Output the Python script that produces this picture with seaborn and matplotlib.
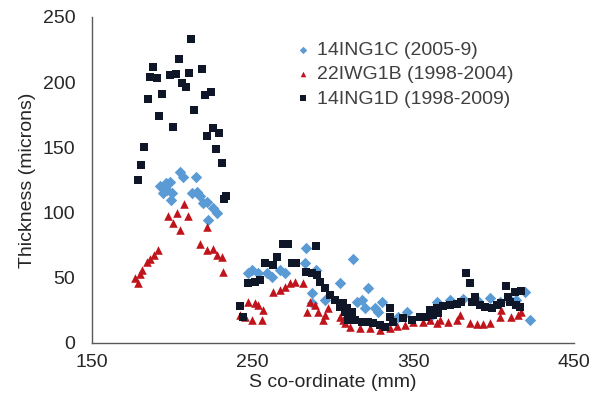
import matplotlib
matplotlib.use("Agg")
import matplotlib.pyplot as plt
import pandas as pd
import seaborn as sns

# 14ING1C (2005-9)
c_x = [204.8, 206.8, 214.7, 192.3, 195.9, 198.5, 196.5, 199.6, 194.4, 199.0, 212.0, 215.2, 217.2, 219.3, 221.7, 225.5, 227.6, 222.4,
       247.3, 249.4, 253.5, 258.7, 261.8, 267.0, 270.1, 283.5, 282.5, 289.7, 304.2, 287.2, 286.7, 295.0,
       312.6, 321.9, 317.8, 314.7, 330.3, 319.9, 326.1, 328.2, 345.8, 340.6,
       419.4, 422.5, 364.5, 372.8, 381.1, 389.4, 397.7, 403.9, 410.1, 414.2, 360.3]
c_y = [131.0, 127.5, 127.0, 120.0, 122.5, 123.7, 117.3, 114.8, 114.8, 109.7, 114.8, 116.0, 112.3, 107.1, 108.4, 103.3, 99.5, 94.3,
       53.5, 56.0, 53.5, 53.5, 50.8, 56.0, 53.5, 72.6, 61.1, 56.0, 45.8, 30.4, 38.0, 33.0,
       64.4, 41.9, 33.0, 31.7, 31.7, 26.6, 26.6, 24.0, 24.0, 20.2,
       39.3, 17.6, 31.7, 33.0, 33.5, 33.0, 34.3, 31.7, 33.0, 33.0, 20.2]

# 22IWG1B (1998-2004)
b_x = [207.2, 202.7, 197.5, 209.9, 200.2, 204.8, 221.7, 217.2, 221.4, 225.5, 228.0, 230.7, 231.7, 191.3, 188.8, 186.1, 184.0, 181.3, 179.9, 176.8, 178.4,
       247.3, 251.4, 253.5, 242.1, 245.2, 256.6, 249.4, 255.6, 262.8, 267.0, 270.1, 273.2, 276.3, 281.5, 285.7, 288.8, 283.6, 290.8, 295.0, 297.0, 293.9, 304.3, 307.4,
       306.4, 310.5, 316.8, 323.0, 329.2, 335.4, 339.6, 356.2, 360.3, 364.5,
       366.6, 371.7, 376.9, 379.0, 385.2, 389.4, 393.5, 397.7, 403.9, 404.9, 411.1, 415.3, 417.3,
       345.0, 350.0]
b_y = [106.6, 99.5, 97.6, 97.6, 91.8, 86.7, 89.2, 75.7, 71.3, 71.9, 67.5, 66.2, 54.7, 71.3, 67.5, 64.2, 62.3, 56.0, 52.7, 49.6, 45.8,
       31.7, 30.4, 29.1, 21.5, 20.2, 25.3, 17.6, 17.6, 39.3, 40.6, 43.2, 45.8, 47.0, 45.8, 31.7, 29.1, 24.0, 24.0, 21.5, 26.6, 17.6, 20.2, 15.1,
       17.6, 12.5, 11.3, 11.3, 10.0, 11.3, 13.0, 16.3, 17.6, 15.1,
       17.6, 16.3, 17.6, 21.5, 15.1, 14.6, 14.6, 15.1, 20.2, 25.3, 20.2, 21.5, 24.0,
       14.0, 16.0]

# 14ING1D (1998-2009)
d_x = [211.6, 204.3, 188.1, 186.1, 190.2, 198.5, 202.3, 210.2, 218.4, 206.2, 208.3, 184.7, 193.8, 220.3, 224.0, 213.7, 191.7, 200.6, 225.5, 221.7,
       229.0, 182.2, 227.2, 180.7, 230.7, 178.8, 233.4, 232.1,
       242.1, 244.2, 247.3, 251.4, 254.5, 257.7, 262.8, 264.9, 268.6, 272.2, 274.2, 277.3, 289.3, 283.2, 286.7, 289.8, 291.9, 295.0, 298.1, 301.2,
       304.3, 307.4, 309.5,
       306.4, 308.5, 311.6, 313.7, 317.8, 322.0, 325.1, 329.2, 332.3, 335.4, 335.4, 337.5, 343.7, 348.9, 354.1, 358.2, 362.4, 365.5,
       382.7, 385.2, 408.0, 413.2, 417.3, 388.3, 360.3, 364.5, 368.6, 372.8, 376.9, 380.0, 386.3, 391.4, 394.6, 398.7, 401.8, 404.9, 410.1, 414.2,
       416.3, 409.0]
d_y = [233.0, 217.8, 211.9, 204.2, 203.5, 205.5, 206.3, 206.8, 210.1, 199.6, 196.6, 187.1, 191.0, 190.4, 192.5, 178.9, 173.9, 165.6, 165.1, 158.7,
       160.8, 150.6, 148.5, 136.7, 137.8, 125.0, 113.0, 110.4,
       28.4, 20.2, 45.8, 47.0, 48.3, 61.1, 59.8, 66.2, 75.9, 75.9, 61.1, 61.1, 74.6, 54.7, 53.5, 52.1, 47.0, 42.0, 36.8, 33.0,
       27.8, 24.0, 17.6,
       30.4, 26.6, 24.0, 17.6, 16.3, 16.3, 15.1, 13.8, 12.5, 26.6, 20.2, 16.3, 19.0, 17.6, 20.2, 20.2, 21.5, 22.8,
       53.5, 46.2, 43.7, 39.3, 40.1, 35.5, 25.3, 26.6, 28.4, 29.1, 29.9, 31.7, 31.7, 29.1, 27.8, 26.6, 29.1, 30.4, 31.7, 29.1,
       27.8, 35.5]

series = ['14ING1C (2005-9)', '22IWG1B (1998-2004)', '14ING1D (1998-2009)']
colors = ['#5B9BD5', '#C0141C', '#0E1628']
markers = ['D', '^', 's']

df = pd.concat([
    pd.DataFrame({'S': c_x, 'T': c_y, 'series': series[0]}),
    pd.DataFrame({'S': b_x, 'T': b_y, 'series': series[1]}),
    pd.DataFrame({'S': d_x, 'T': d_y, 'series': series[2]}),
], ignore_index=True)

sns.set_style('white')
plt.rcParams['font.family'] = ['Liberation Sans', 'DejaVu Sans']

fig = plt.figure(figsize=(6.01, 3.95), dpi=100)
ax = fig.add_axes([0.153, 0.132, 0.802, 0.825])

sizes = {series[0]: 34, series[1]: 38, series[2]: 40}
for name, col, mk in zip(series, colors, markers):
    sub = df[df['series'] == name]
    sns.scatterplot(data=sub, x='S', y='T', color=col, marker=mk, s=sizes[name],
                    linewidth=0, ax=ax, label=name)

ax.set_xlim(150, 450)
ax.set_ylim(0, 250)
ax.set_xticks([150, 250, 350, 450])
ax.set_yticks([0, 50, 100, 150, 200, 250])
ax.set_xlabel('S co-ordinate (mm)', fontsize=14, labelpad=2, color='#262626')
ax.set_ylabel('Thickness (microns)', fontsize=14, labelpad=5, color='#262626')
ax.tick_params(axis='both', labelsize=14, direction='out', length=5, width=1,
               color='#595959', labelcolor='#262626')
ax.tick_params(axis='y', pad=7)
ax.tick_params(axis='x', pad=3)
for side in ['top', 'right']:
    ax.spines[side].set_visible(False)
for side in ['left', 'bottom']:
    ax.spines[side].set_color('#595959')
    ax.spines[side].set_linewidth(1)

# legend sits inside the plot, upper middle, no frame
ax.legend(loc='upper left', bbox_to_anchor=(0.402, 0.95), frameon=False,
          fontsize=14, handlelength=1.0, handletextpad=0.2, labelspacing=0.35,
          markerscale=0.65, borderaxespad=0, labelcolor='#404040')

fig.savefig('out.png', dpi=100)
